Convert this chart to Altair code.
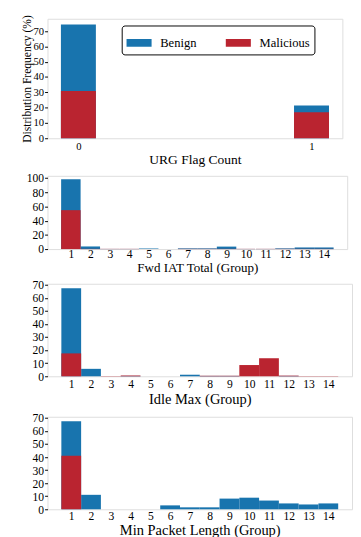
import altair as alt
import pandas as pd

FONT = "Liberation Serif"
BLUE = "#1874AE"
RED = "#BA2430"

# URG Flag Count
urg_cats = [0, 1]
urg_benign = [74.4, 21.4]
urg_malicious = [30.9, 17.0]

groups = list(range(1, 15))
# Fwd IAT Total (Group)
fwd_benign = [98.2, 3.7, 0.2, 0.2, 1.0, 0.2, 1.0, 1.0, 3.5, 0.2, 0.2, 1.0, 2.3, 2.3]
fwd_malicious = [54.8, 0.3, 0.3, 0.3, 0.3, 0.3, 0.3, 0.3, 0.3, 0.3, 0.3, 0.3, 0.3, 0.3]
# Idle Max (Group)
idle_benign = [67.3, 5.7, 0.0, 0.3, 0.0, 0.0, 1.2, 0.3, 0.3, 0.0, 0.0, 0.3, 0.0, 0.0]
idle_malicious = [17.5, 0.0, 0.2, 0.6, 0.0, 0.0, 0.0, 0.4, 0.4, 8.6, 13.8, 0.5, 0.2, 0.2]
# Min Packet Length (Group)
mpl_benign = [67.6, 11.1, 0.0, 0.0, 0.0, 3.0, 1.5, 1.5, 8.2, 8.9, 6.7, 4.5, 3.7, 4.5]
mpl_malicious = [41.0, 0.0, 0.0, 0.0, 0.0, 0.0, 0.0, 0.0, 0.0, 0.0, 0.0, 0.0, 0.0, 0.0]


def make_df(cats, benign, malicious, half):
    rows = []
    for name, vals in (("Benign", benign), ("Malicious", malicious)):
        for c, v in zip(cats, vals):
            rows.append({"g": c, "start": c - half, "end": c + half, "value": v,
                         "base": 0.0, "series": name})
    return pd.DataFrame(rows)


def panel(df, title, xdomain, xticks, ydomain, yticks, width, height, yext, ytitle=None,
          legend=False, label_size=12, title_size=15, title_pad=1, label_pad=3):
    yaxis = dict(values=yticks, labelFont=FONT, labelFontSize=label_size, labelColor="black",
                 tickColor="black", tickSize=3, labelPadding=1, domain=False, grid=False,
                 minExtent=yext, maxExtent=yext)
    if ytitle:
        yaxis.update(title=ytitle, titleFont=FONT, titleFontSize=12, titleFontWeight="normal",
                     titleColor="black", titlePadding=1)
    else:
        yaxis.update(title=None)
    xaxis = alt.Axis(values=xticks, title=title, titleFont=FONT, titleFontSize=title_size,
                     titleFontWeight="normal", titleColor="black", titlePadding=title_pad,
                     labelFont=FONT, labelFontSize=label_size, labelColor="black", ticks=False,
                     labelPadding=label_pad, domain=False, grid=False, format="d",
                     labelFlush=False)
    if legend:
        color = alt.Color("series:N",
                          scale=alt.Scale(domain=["Benign", "Malicious"], range=[BLUE, RED]),
                          legend=alt.Legend(title=None, orient="none", legendX=77, legendY=7,
                                            direction="horizontal",
                                            symbolType="M-1,-0.31L1,-0.31L1,0.31L-1,0.31Z",
                                            symbolSize=676, symbolStrokeWidth=0,
                                            labelFont=FONT, labelFontSize=13, labelColor="black",
                                            labelOffset=9, columnPadding=30,
                                            strokeColor="black", fillColor="white",
                                            cornerRadius=3, padding=5))
    else:
        color = alt.Color("series:N",
                          scale=alt.Scale(domain=["Benign", "Malicious"], range=[BLUE, RED]),
                          legend=None)
    return alt.Chart(df).mark_bar(strokeWidth=0).encode(
        x=alt.X("start:Q", scale=alt.Scale(domain=xdomain, nice=False, zero=False), axis=xaxis),
        x2="end:Q",
        y=alt.Y("value:Q", stack=None, scale=alt.Scale(domain=ydomain, nice=False),
                axis=alt.Axis(**yaxis)),
        y2="base:Q",
        color=color,
    ).properties(width=width, height=height)


p1 = panel(make_df(urg_cats, urg_benign, urg_malicious, 0.075), "URG Flag Count",
           [-0.1325, 1.1325], urg_cats, [0, 78.1], list(range(0, 71, 10)), 306, 124, 14,
           ytitle="Distribution Frequency (%)", legend=True, label_size=11, title_size=14,
           title_pad=1)
p2 = panel(make_df(groups, fwd_benign, fwd_malicious, 0.5), "Fwd IAT Total (Group)",
           [-0.2, 15.2], groups, [0, 103.1], list(range(0, 101, 20)), 311, 76, 22,
           title_size=13.5, title_pad=1, label_pad=0)
p3 = panel(make_df(groups, idle_benign, idle_malicious, 0.5), "Idle Max (Group)",
           [-0.2, 15.2], groups, [0, 70.7], list(range(0, 71, 10)), 316, 96, 17,
           title_size=15, title_pad=2, label_pad=3)
p4 = panel(make_df(groups, mpl_benign, mpl_malicious, 0.5), "Min Packet Length (Group)",
           [-0.2, 15.2], groups, [0, 71.0], list(range(0, 71, 10)), 316, 96, 17,
           title_size=15, title_pad=1, label_pad=2)

chart = alt.vconcat(p1, p2, p3, p4, spacing=4).properties(
    padding={"left": 12, "top": -4, "right": 0, "bottom": 0}
).configure_view(stroke="black", strokeWidth=1).configure_axis(
    labelFont=FONT, titleFont=FONT
).configure(background="white")

chart.save("out.html", embed_options={"renderer": "svg", "actions": False})
